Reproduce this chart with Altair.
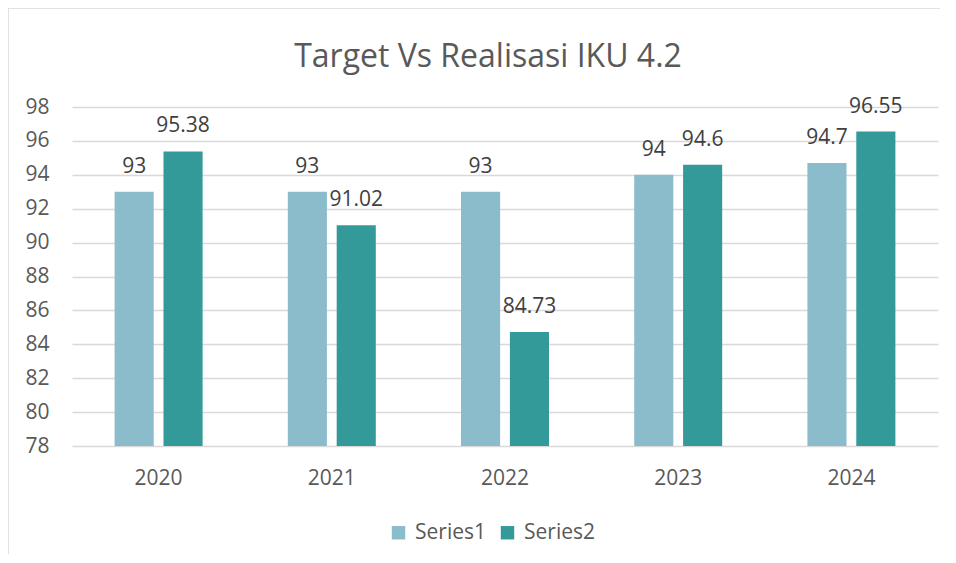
import altair as alt
import pandas as pd

years = ["2020", "2021", "2022", "2023", "2024"]
series1 = [93, 93, 93, 94, 94.7]
series2 = [95.38, 91.02, 84.73, 94.6, 96.55]
series_names = ["Series1", "Series2"]
colors = ["#8bbccc", "#339a99"]
y_ticks = list(range(78, 100, 2))


def fmt(v):
    s = f"{v:.2f}".rstrip("0").rstrip(".")
    return s


rows = []
for i, y in enumerate(years):
    rows.append({"year": y, "series": "Series1", "value": series1[i], "label": fmt(series1[i])})
    rows.append({"year": y, "series": "Series2", "value": series2[i], "label": fmt(series2[i])})
df = pd.DataFrame(rows)

FONT = "Open Sans"
FS = 21
W, H = 866, 339

x_axis = alt.Axis(labelAngle=0, labelFontSize=FS, labelColor="#595959",
                  labelFont=FONT, labelPadding=21, ticks=False, domain=False)
y_axis = alt.Axis(values=y_ticks, tickCount=11, labelOverlap=False, labelFontSize=FS,
                  labelColor="#595959", labelFont=FONT, labelPadding=23, ticks=False,
                  domain=False, gridColor="#d9d9d9", gridWidth=1.3)
x_scale = alt.Scale(paddingInner=0.492, paddingOuter=0.246)
y_scale = alt.Scale(domain=[78, 98], nice=False, zero=False)

x_enc = alt.X("year:N", title=None, scale=x_scale, axis=x_axis)
xo_enc = alt.XOffset("series:N", scale=alt.Scale(paddingInner=0.2, paddingOuter=0),
                     sort=series_names)
y_enc = alt.Y("value:Q", title=None, scale=y_scale, axis=y_axis)

bars = alt.Chart(df).mark_bar().encode(
    x=x_enc,
    xOffset=xo_enc,
    y=y_enc,
    y2=alt.datum(78),
    color=alt.Color("series:N", sort=series_names,
                    scale=alt.Scale(domain=series_names, range=colors),
                    legend=alt.Legend(title=None, orient="none", direction="horizontal",
                                      legendX=316, legendY=415, symbolType="square",
                                      symbolSize=180, symbolStrokeWidth=0,
                                      labelFontSize=FS, labelColor="#595959",
                                      labelFont=FONT, labelOffset=6, columnPadding=11)),
)

labels = alt.Chart(df).mark_text(fontSize=FS, font=FONT, color="#404040",
                                 baseline="alphabetic", dy=-19).encode(
    x=x_enc,
    xOffset=xo_enc,
    y=y_enc,
    text="label:N",
)

frame_df = pd.DataFrame({"a": [0]})
frame_left = alt.Chart(frame_df).mark_rule(color="#d9d9d9", strokeWidth=1.5).encode(
    x=alt.value(-64), y=alt.value(-99), y2=alt.value(470))
frame_top = alt.Chart(frame_df).mark_rule(color="#d9d9d9", strokeWidth=1.5).encode(
    x=alt.value(-64), x2=alt.value(868), y=alt.value(-99))

chart = alt.layer(bars, labels, frame_left, frame_top).properties(
    width=W, height=H,
    autosize=alt.AutoSizeParams(type="none"),
    padding={"left": 64, "top": 99, "right": 2, "bottom": 108},
    title=alt.TitleParams("Target Vs Realisasi IKU 4.2", fontSize=32, font=FONT,
                          fontWeight="normal", color="#595959", anchor="middle",
                          dx=-17, offset=-67),
).configure_view(stroke=None)

chart.save("out.html", embed_options={"renderer": "svg", "actions": False})
